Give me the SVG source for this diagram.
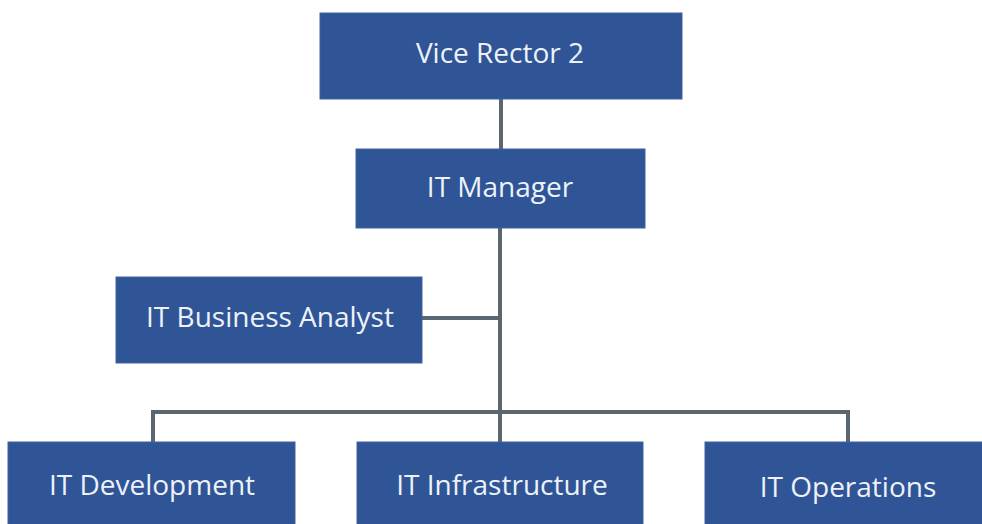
<svg xmlns="http://www.w3.org/2000/svg" width="982" height="524" viewBox="0 0 982 524">
<style>
.box{fill:#2f5597;stroke:#41639f;stroke-width:1}
.lbl{font-family:"Open Sans","Noto Sans",sans-serif;font-size:28px;fill:#eef2f8;text-anchor:middle}
.con{stroke:#5b6770;stroke-width:4;fill:none}
</style>
<rect width="982" height="524" fill="#ffffff"/>
<g id="connectors">
<line class="con" x1="501" y1="99" x2="501" y2="149"/>
<line class="con" x1="500" y1="228" x2="500" y2="442"/>
<line class="con" x1="422" y1="318" x2="500" y2="318"/>
<polyline class="con" points="153,442 153,412 848,412 848,442"/>
</g>
<g id="vice-rector-2"><rect class="box" x="320" y="13" width="362" height="86"/><text class="lbl" x="500" y="63">Vice Rector 2</text></g>
<g id="it-manager"><rect class="box" x="356" y="149" width="289" height="79"/><text class="lbl" x="500" y="197">IT Manager</text></g>
<g id="it-business-analyst"><rect class="box" x="116" y="277" width="306" height="86"/><text class="lbl" x="270" y="327">IT Business Analyst</text></g>
<g id="it-development"><rect class="box" x="8" y="442" width="287" height="90"/><text class="lbl" x="152" y="495">IT Development</text></g>
<g id="it-infrastructure"><rect class="box" x="357" y="442" width="286" height="90"/><text class="lbl" x="502" y="495">IT Infrastructure</text></g>
<g id="it-operations"><rect class="box" x="705" y="442" width="290" height="90"/><text class="lbl" x="848" y="497">IT Operations</text></g>
</svg>
